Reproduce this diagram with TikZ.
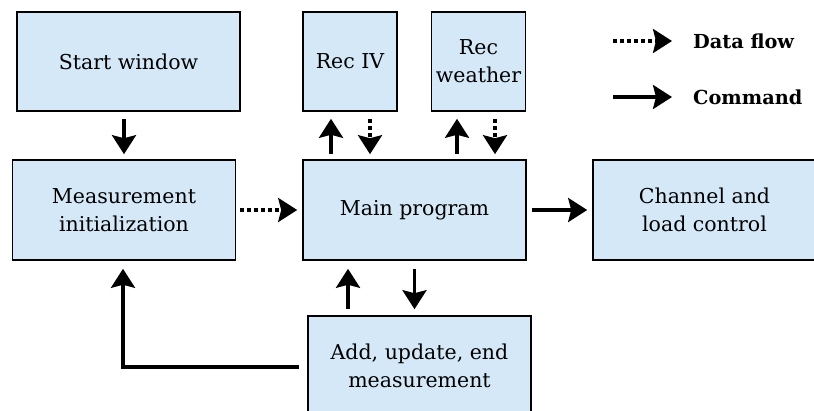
\documentclass[tikz,border=0pt]{standalone}
\usepackage{fontspec}
\setmainfont{DejaVu Serif}
\usetikzlibrary{arrows.meta}
\definecolor{boxblue}{RGB}{212,232,247}

\begin{document}
\begin{tikzpicture}[
  x=1pt,y=-1pt,
  >={Stealth[length=19pt,width=24pt,inset=3pt]},
  blk/.style={draw,fill=boxblue,line width=1.6pt,minimum width=223pt,minimum height=99pt,
    align=center,inner sep=0pt,font=\fontsize{20.5}{28}\selectfont},
  rec/.style={blk,minimum width=94pt},
  cmd/.style={->,line width=3.3pt},
  data/.style={->,line width=3.3pt,dash pattern=on 4pt off 3pt},
  lgd/.style={anchor=west,inner sep=0pt,font=\fontsize{19.3}{22}\selectfont\bfseries}
]
\useasboundingbox (0,0) rectangle (814,410);
\clip (0,0) rectangle (814,410);
\node[blk] (start) at (128.5,61.5) {Start window};
\node[rec] (reciv) at (350,61.5) {Rec IV};
\node[rec] (recw) at (478.5,61.5) {Rec\\weather};
\node[blk,minimum height=100pt] (meas) at (124,210) {Measurement\\initialization};
\node[blk,minimum height=100pt] (main) at (414.5,210) {Main program};
\node[blk,minimum height=100pt] (chan) at (704.5,210) {Channel and\\load control};
\node[blk,minimum height=100pt] (add) at (419.5,366) {Add, update, end\\measurement};
\node[lgd] (lgdata) at (693,41) {Data flow};
\node[lgd] (lgcmd) at (693,97) {Command};
\coordinate (ldata) at (613,41);
\coordinate (lcmd) at (613,97);
\draw[cmd] ([yshift=-7]start.south -| meas.north) -- ([yshift=5]meas.north);
\draw[cmd] ([xshift=-19,yshift=5]reciv.south |- main.north) -- ([xshift=-19,yshift=-7]reciv.south);
\draw[data] ([xshift=20,yshift=-7]reciv.south) -- ([xshift=20,yshift=5]reciv.south |- main.north);
\draw[cmd] ([xshift=-21.5,yshift=5]recw.south |- main.north) -- ([xshift=-21.5,yshift=-7]recw.south);
\draw[data] ([xshift=16.5,yshift=-7]recw.south) -- ([xshift=16.5,yshift=5]recw.south |- main.north);
\draw[data] ([xshift=4]meas.east) -- ([xshift=-5]main.west);
\draw[cmd] ([xshift=5]main.east) -- ([xshift=-5]chan.west);
\draw[cmd] ([xshift=-66.5,yshift=6]main.south |- add.north) -- ([xshift=-66.5,yshift=-8]main.south);
\draw[cmd] ([yshift=-8]main.south) -- ([yshift=6]main.south |- add.north);
\draw[cmd] ([xshift=-8,yshift=-1]add.west) -| ([xshift=-1,yshift=-8]meas.south);
\draw[data] (ldata) -- ([xshift=-21]lgdata.west);
\draw[cmd] (lcmd) -- ([xshift=-21]lgcmd.west);
\end{tikzpicture}
\end{document}
